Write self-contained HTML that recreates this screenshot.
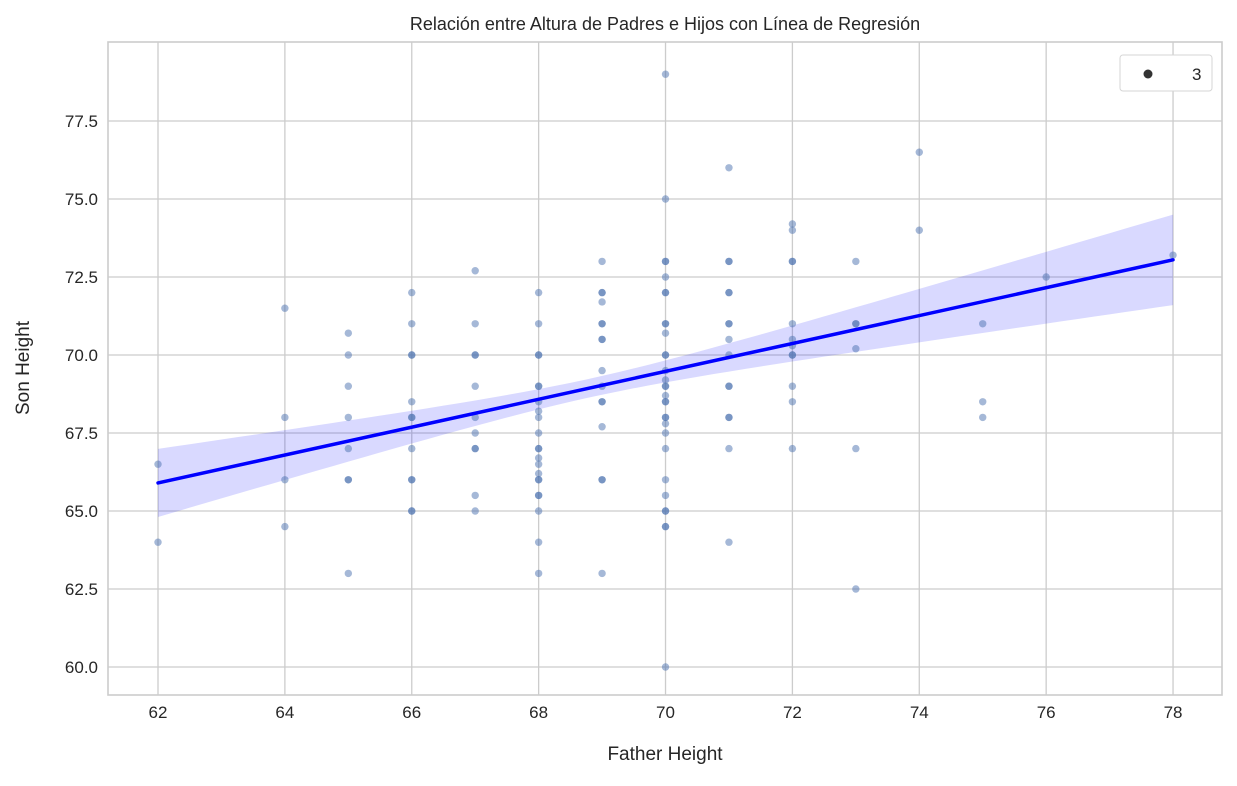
<!DOCTYPE html>
<html><head><meta charset="utf-8"><style>
body{margin:0;background:#fff;}
svg text{font-family:"Liberation Sans",Arial,sans-serif;fill:#262626;}
</style></head><body>
<svg id="s" width="1237" height="781" xmlns="http://www.w3.org/2000/svg">
<rect width="1237" height="781" fill="#fff"/>
<g id="grid" stroke="#cccccc" stroke-width="1.3"></g>
<g id="band"></g>
<g id="pts"></g>
<g id="line"></g>
<rect x="108" y="42" width="1114" height="653" fill="none" stroke="#cccccc" stroke-width="1.6"/>
<text x="665" y="30" font-size="18" text-anchor="middle">Relación entre Altura de Padres e Hijos con Línea de Regresión</text>
<text x="665" y="760" font-size="19" text-anchor="middle">Father Height</text>
<text transform="translate(29,368) rotate(-90)" font-size="19" text-anchor="middle">Son Height</text>
<g id="ticks" font-size="17"></g>
<rect x="1120" y="55" width="92" height="36" rx="3" fill="#fff" stroke="#d6d6d6"/>
<circle cx="1148" cy="74" r="4.5" fill="#333"/>
<text x="1192" y="80" font-size="17">3</text>
</svg>
<script>
const NS="http://www.w3.org/2000/svg";
const X=f=>158+(f-62)*63.44, Y=s=>667-(s-60)*31.2;
function el(p,t,a){const e=document.createElementNS(NS,t);for(const k in a)e.setAttribute(k,a[k]);document.getElementById(p).appendChild(e);return e;}
for(let f=62;f<=78;f+=2){el('grid','line',{x1:X(f),x2:X(f),y1:42,y2:695});const t=el('ticks','text',{x:X(f),y:718,'text-anchor':'middle'});t.textContent=f;}
for(let s=60;s<=77.5;s+=2.5){el('grid','line',{x1:108,x2:1222,y1:Y(s),y2:Y(s)});const t=el('ticks','text',{x:98,y:Y(s)+6,'text-anchor':'end'});t.textContent=s.toFixed(1);}
const L=x=>65.9+(x-62)*(7.15/16), H=x=>Math.sqrt(0.09+0.0238*(x-68.8)**2);
let up=[],dn=[];for(let x=62;x<=78.001;x+=0.25){up.push(X(x)+','+Y(L(x)+H(x)));dn.unshift(X(x)+','+Y(L(x)-H(x)));}
el('band','polygon',{points:up.concat(dn).join(' '),fill:'rgba(0,0,255,0.15)'});
el('line','line',{x1:X(62),y1:Y(L(62)),x2:X(78),y2:Y(L(78)),stroke:'#0000ff','stroke-width':3.5,'stroke-linecap':'round'});
const D={62:[66.5,64],64:[71.5,68,66,64.5],65:[70.7,70,69,68,67,66,66,63],
66:[72,71,70,70,68.5,68,68,67,66,66,65,65],67:[72.7,71,70,70,69,68,67.5,67,67,65.5,65],
68:[72,71,70,70,69,69,68.5,68.2,68,67.5,67,67,66.7,66.5,66.2,66,66,65.5,65.5,65,64,63],
69:[73,72,72,71.7,71,71,70.5,70.5,69.5,69,68.5,68.5,67.7,66,66,63],
70:[79,75,73,73,72.5,72,72,71,71,70.7,70,70,69.5,69.2,69,69,68.7,68.5,68.5,68,68,67.8,67.5,67,66,65.5,65,65,64.5,64.5,60],
71:[76,73,73,72,72,71,71,70.5,70,69,69,68,68,67,64],72:[74.2,74,73,73,71,70.5,70.3,70,70,69,68.5,67],
73:[73,71,71,70.2,67,62.5],74:[76.5,74],75:[71,68.5,68],76:[72.5],78:[73.2]};
for(const f in D)for(const s of D[f])el('pts','circle',{cx:X(+f),cy:Y(s),r:3.7,fill:'#4c72b0','fill-opacity':0.5});
</script>
</body></html>
